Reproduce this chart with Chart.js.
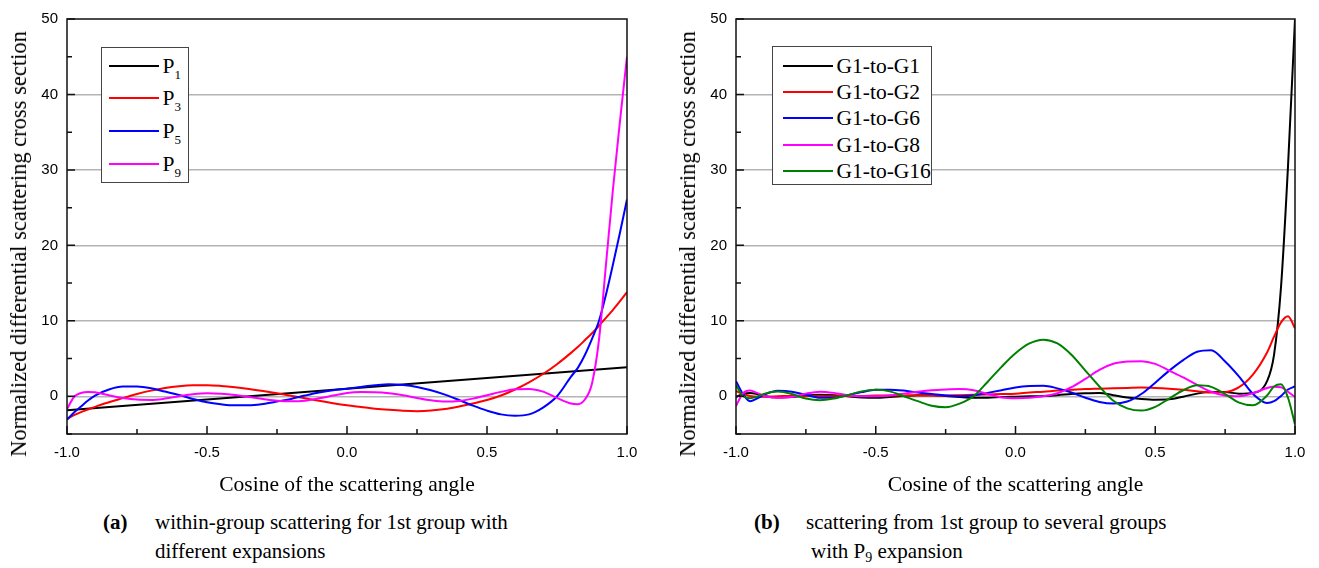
<!DOCTYPE html>
<html>
<head>
<meta charset="utf-8">
<title>Normalized differential scattering cross section</title>
<script src="https://cdn.jsdelivr.net/npm/chart.js@4.4.1/dist/chart.umd.min.js"></script>
<style>
  body { margin: 0; background: #fff; font-family: "Liberation Serif", "Times New Roman", serif; color: #000; }
  #page { position: relative; width: 1319px; height: 568px; overflow: hidden; }
  .panel { position: absolute; top: 0; }
  .legend { position: absolute; border: 1.5px solid #444; background: #fff; box-sizing: border-box; }
  .legend .swatch { position: absolute; width: 50px; height: 2px; }
  .legend .label { position: absolute; font-size: 21.5px; line-height: 24px; white-space: nowrap; }
  .legend .label sub { font-size: 13px; vertical-align: -6px; line-height: 0; }
  .cap { position: absolute; font-size: 21px; line-height: 29px; white-space: nowrap; }
  .cap sub { font-size: 14px; vertical-align: -4px; line-height: 0; }
  .ytitle { position: absolute; top: 244px; font-size: 22.5px; line-height: 26px; white-space: nowrap;
            transform: translate(-50%, -50%) rotate(-90deg); }
</style>
</head>
<body>
<div id="page">
  <canvas id="chartA" class="panel" width="660" height="500" style="left:0"></canvas>
  <canvas id="chartB" class="panel" width="659" height="500" style="left:660px"></canvas>

  <div class="ytitle" style="left:19px">Normalized differential scattering cross section</div>
  <div class="ytitle" style="left:688px">Normalized differential scattering cross section</div>

  <div id="legendA" class="legend" style="left:101px; top:47px; width:88px; height:136px"></div>
  <div id="legendB" class="legend" style="left:772px; top:46px; width:160px; height:139px"></div>

  <div class="cap" style="left:103px; top:508px"><b>(a)</b></div>
  <div class="cap" style="left:155px; top:508px">within-group scattering for 1st group with<br>different expansions</div>
  <div class="cap" style="left:754px; top:508px"><b>(b)</b></div>
  <div class="cap" style="left:806px; top:508px">scattering from 1st group to several groups</div>
  <div class="cap" style="left:811px; top:537px">with P<sub>9</sub> expansion</div>
</div>

<script>
// cosine of the scattering angle, panel (a)
const muA = [-1, -0.975, -0.95, -0.925, -0.9, -0.85, -0.8, -0.75, -0.7, -0.65, -0.6, -0.55, -0.5, -0.45, -0.4,
  -0.35, -0.3, -0.25, -0.2, -0.15, -0.1, -0.05, 0, 0.05, 0.1, 0.15, 0.2, 0.25, 0.3, 0.35, 0.4, 0.45, 0.5,
  0.55, 0.6, 0.65, 0.7, 0.75, 0.8, 0.825, 0.85, 0.875, 0.9, 0.925, 0.95, 0.975, 1];
const muP1 = [-1, 0, 1];
const p1 = [-1.85, 1.0, 3.85];
const p3 = [-3.0, -2.5, -2.1, -1.75, -1.4, -0.8, -0.25, 0.3, 0.75, 1.1, 1.33, 1.45, 1.46, 1.37, 1.2,
  0.97, 0.7, 0.4, 0.08, -0.25, -0.6, -0.92, -1.2, -1.42, -1.64, -1.8, -1.92, -1.97, -1.9, -1.7, -1.35, -0.95, -0.5,
  0.1, 0.9, 1.85, 2.95, 4.25, 5.75, 6.55, 7.45, 8.35, 9.35, 10.4, 11.45, 12.6, 13.8];
const p5 = [-3.1, -2.15, -1.35, -0.55, 0.1, 0.9, 1.28, 1.28, 1.06, 0.62, 0.18, -0.35, -0.8, -1.06, -1.2,
  -1.2, -1.02, -0.7, -0.35, 0.09, 0.49, 0.8, 1.0, 1.24, 1.46, 1.6, 1.5, 1.24, 0.8, 0.22, -0.49, -1.24, -1.9,
  -2.4, -2.57, -2.4, -1.5, 0.0, 2.6, 3.8, 5.5, 7.6, 10.0, 13.5, 17.5, 21.7, 26.1];
const p9 = [-1.7, -0.1, 0.44, 0.58, 0.53, 0.13, -0.22, -0.44, -0.49, -0.31, 0.0, 0.27, 0.4, 0.35, 0.18,
  -0.09, -0.35, -0.58, -0.66, -0.58, -0.27, 0.09, 0.44, 0.55, 0.53, 0.4, 0.13, -0.22, -0.53, -0.7, -0.62, -0.31, 0.13,
  0.58, 0.93, 0.97, 0.62, -0.22, -0.97, -1.05, -0.4, 1.7, 7.5, 17.5, 27.5, 36.5, 45];

// panel (b)
const muB = [-1, -0.975, -0.95, -0.925, -0.9, -0.85, -0.8, -0.75, -0.7, -0.65, -0.6, -0.55, -0.5, -0.45, -0.4,
  -0.35, -0.3, -0.25, -0.2, -0.15, -0.1, -0.05, 0, 0.05, 0.1, 0.15, 0.2, 0.25, 0.3, 0.35, 0.4, 0.45, 0.5,
  0.55, 0.6, 0.65, 0.7, 0.75, 0.8, 0.85, 0.9, 0.925, 0.95, 0.975, 1];
const g1 = [-0.1, 0.3, 0.45, 0.3, 0.05, -0.15, -0.1, 0.1, 0.2, 0.15, 0.0, -0.15, -0.2, -0.1, 0.05,
  0.15, 0.15, 0.05, -0.1, -0.2, -0.2, -0.1, -0.05, 0.0, 0.05, 0.15, 0.3, 0.4, 0.45, 0.15, -0.15, -0.35, -0.45,
  -0.4, -0.05, 0.35, 0.55, 0.55, 0.35, 0.45, 2.0, 5.5, 14.5, 30.5, 50];
const g2 = [0.7, 0.3, 0.05, -0.05, -0.05, 0.0, 0.05, 0.05, 0.0, 0.0, 0.05, 0.05, 0.1, 0.1, 0.1,
  0.1, 0.1, 0.1, 0.15, 0.2, 0.25, 0.3, 0.35, 0.5, 0.6, 0.75, 0.85, 0.95, 1.0, 1.05, 1.1, 1.15, 1.1,
  1.0, 0.85, 0.65, 0.5, 0.55, 1.2, 2.9, 5.8, 7.9, 9.8, 10.6, 9.0];
const g6 = [2.0, 0.3, -0.65, -0.3, 0.2, 0.72, 0.6, 0.2, -0.2, -0.2, 0.15, 0.55, 0.85, 0.88, 0.75,
  0.5, 0.3, 0.1, 0.0, 0.1, 0.45, 0.8, 1.15, 1.35, 1.4, 1.05, 0.5, -0.2, -0.75, -0.97, -0.7, 0.3, 1.8,
  3.4, 4.8, 5.9, 6.1, 4.6, 2.6, 0.3, -0.88, -0.65, 0.05, 0.9, 1.3];
const g8 = [-1.3, 0.4, 0.75, 0.45, 0.05, -0.2, -0.1, 0.35, 0.6, 0.45, 0.15, 0.0, 0.0, 0.1, 0.35,
  0.6, 0.8, 0.9, 0.95, 0.8, 0.3, -0.15, -0.25, -0.2, 0.0, 0.4, 1.2, 2.3, 3.5, 4.3, 4.6, 4.65, 4.3,
  3.4, 2.5, 1.5, 0.6, 0.1, 0.0, 0.4, 1.1, 1.25, 1.2, 0.6, -0.1];
const g16 = [1.5, 0.0, -0.25, -0.05, 0.32, 0.62, 0.3, -0.3, -0.53, -0.3, 0.15, 0.65, 0.85, 0.65, 0.0,
  -0.65, -1.25, -1.45, -0.97, 0.0, 1.9, 3.9, 5.7, 7.0, 7.5, 7.0, 5.5, 3.4, 1.3, -0.6, -1.6, -1.9, -1.4,
  -0.3, 0.8, 1.45, 1.25, 0.3, -0.85, -1.2, 0.1, 1.3, 1.6, -0.2, -3.7];

const xTicks = [-1.0, -0.5, 0.0, 0.5, 1.0];
const yTicks = [0, 10, 20, 30, 40, 50];

const seriesA = [
  { label: 'P<sub>1</sub>', color: '#000000', x: muP1, y: p1 },
  { label: 'P<sub>3</sub>', color: '#ff0000', x: muA, y: p3 },
  { label: 'P<sub>5</sub>', color: '#0000ff', x: muA, y: p5 },
  { label: 'P<sub>9</sub>', color: '#ff00ff', x: muA, y: p9 }
];
const seriesB = [
  { label: 'G1-to-G1', color: '#000000', x: muB, y: g1 },
  { label: 'G1-to-G2', color: '#ff0000', x: muB, y: g2 },
  { label: 'G1-to-G6', color: '#0000ff', x: muB, y: g6 },
  { label: 'G1-to-G8', color: '#ff00ff', x: muB, y: g8 },
  { label: 'G1-to-G16', color: '#008000', x: muB, y: g16 }
];

Chart.defaults.font.family = '"Liberation Sans", Arial, sans-serif';
Chart.defaults.font.size = 16;
Chart.defaults.color = '#000';

// box round the plot and inward tick marks
const framePlugin = {
  id: 'frame',
  afterDatasetsDraw(chart) {
    const { ctx, chartArea: a, scales } = chart;
    ctx.save();
    ctx.strokeStyle = '#111';
    ctx.lineWidth = 1.5;
    ctx.beginPath();
    scales.x.ticks.forEach(t => {
      const px = scales.x.getPixelForValue(t.value);
      const len = xTicks.some(v => Math.abs(v - t.value) < 1e-6) ? 8 : 5;
      ctx.moveTo(px, a.bottom);
      ctx.lineTo(px, a.bottom - len);
    });
    scales.y.ticks.forEach(t => {
      const py = scales.y.getPixelForValue(t.value);
      const len = yTicks.includes(t.value) ? 8 : 5;
      ctx.moveTo(a.left, py);
      ctx.lineTo(a.left + len, py);
    });
    ctx.stroke();
    ctx.strokeRect(a.left, a.top, a.right - a.left, a.bottom - a.top);
    ctx.restore();
  }
};

function makeChart(id, series, yAxisWidth, rightPad) {
  const datasets = series.map((s, i) => ({
    label: s.label,
    data: s.x.map((x, k) => ({ x: x, y: s.y[k] })),
    borderColor: s.color,
    borderWidth: 2,
    pointRadius: 0,
    fill: false,
    cubicInterpolationMode: 'monotone',
    order: -i
  }));
  return new Chart(document.getElementById(id), {
    type: 'line',
    data: { datasets },
    plugins: [framePlugin],
    options: {
      responsive: false,
      animation: false,
      layout: { padding: { top: 19, right: rightPad, left: 0, bottom: 0 } },
      plugins: { legend: { display: false }, tooltip: { enabled: false } },
      scales: {
        x: {
          type: 'linear', min: -1, max: 1,
          afterFit(scale) { scale.height = 66; },
          grid: { display: false, drawTicks: false },
          border: { display: false },
          ticks: {
            stepSize: 0.25, padding: 10, maxRotation: 0,
            font: { size: 15 },
            callback: v => xTicks.some(t => Math.abs(t - v) < 1e-6) ? v.toFixed(1) : ''
          },
          title: {
            display: true, text: 'Cosine of the scattering angle',
            font: { family: '"Liberation Serif", serif', size: 21.5 },
            padding: { top: 0, bottom: 2 }
          }
        },
        y: {
          min: -5, max: 50,
          afterFit(scale) { scale.width = yAxisWidth; },
          grid: {
            drawTicks: false,
            color: c => (c.tick && yTicks.includes(c.tick.value) && c.tick.value < 50) ? '#b4b4b4' : 'rgba(0,0,0,0)',
            lineWidth: 1.5
          },
          border: { display: false },
          ticks: {
            stepSize: 5, padding: 9,
            font: { size: 15 },
            callback: v => yTicks.includes(v) ? String(v) : ''
          }
        }
      }
    }
  });
}

function makeLegend(id, series, rowTop, rowGap, swatchLeft, textLeft) {
  const box = document.getElementById(id);
  series.forEach((s, i) => {
    const cy = rowTop + i * rowGap;
    const sw = document.createElement('div');
    sw.className = 'swatch';
    sw.style.background = s.color;
    sw.style.left = swatchLeft + 'px';
    sw.style.top = (cy - 1) + 'px';
    box.appendChild(sw);
    const tx = document.createElement('div');
    tx.className = 'label';
    tx.innerHTML = s.label;
    tx.style.left = textLeft + 'px';
    tx.style.top = (cy - 12) + 'px';
    box.appendChild(tx);
  });
}

makeChart('chartA', seriesA, 67, 33);
makeChart('chartB', seriesB, 76, 24);
makeLegend('legendA', seriesA, 17.5, 32.7, 6.5, 60.5);
makeLegend('legendB', seriesB, 18.5, 26.4, 9.5, 63.5);
</script>
</body>
</html>
